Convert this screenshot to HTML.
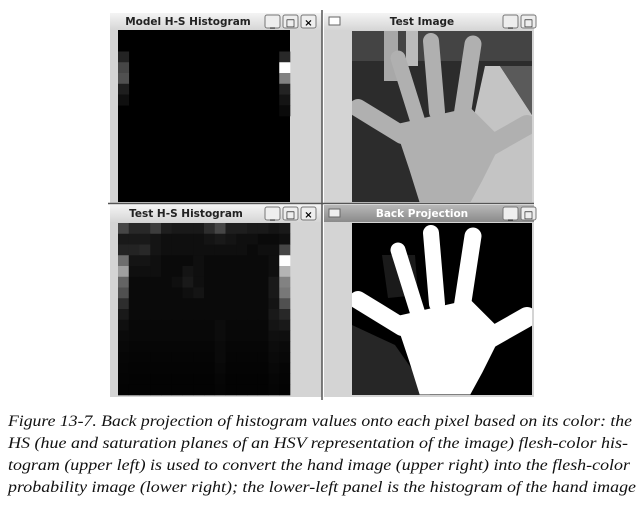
<!DOCTYPE html>
<html><head><meta charset="utf-8"><style>
html,body{margin:0;padding:0;background:#fff;width:641px;height:506px;overflow:hidden}
svg{display:block}
text{font-family:"DejaVu Sans","Liberation Sans",sans-serif}
text.cap{font-family:"Liberation Serif",serif;font-style:italic;font-size:16px;fill:#111}
.tt{font-size:10.5px;font-weight:bold;fill:#222}
</style></head><body>
<svg id="fig" width="641" height="506" viewBox="0 0 641 506">
<defs>
<linearGradient id="tb" x1="0" y1="0" x2="0" y2="1"><stop offset="0" stop-color="#f4f4f4"/><stop offset="1" stop-color="#d6d6d6"/></linearGradient>
<linearGradient id="tbd" x1="0" y1="0" x2="0" y2="1"><stop offset="0" stop-color="#b8b8b8"/><stop offset="1" stop-color="#8a8a8a"/></linearGradient>
<clipPath id="c1"><rect x="352" y="31" width="180" height="171"/></clipPath>
<clipPath id="c2"><rect x="352" y="223" width="180" height="172"/></clipPath>
</defs>
<g>
<rect x="110" y="13" width="212" height="191" fill="#d4d4d4"/>
<rect x="110" y="13" width="212" height="17" fill="url(#tb)"/>
<text class="tt" x="188" y="25" text-anchor="middle">Model H-S Histogram</text>
</g>
<g>
<rect x="110" y="205" width="212" height="192" fill="#d4d4d4"/>
<rect x="110" y="205" width="212" height="17" fill="url(#tb)"/>
<text class="tt" x="186" y="217" text-anchor="middle">Test H-S Histogram</text>
</g>
<g>
<rect x="324" y="13" width="210" height="191" fill="#d4d4d4"/>
<rect x="324" y="13" width="210" height="17" fill="url(#tb)"/>
<rect x="329" y="17" width="11" height="8" fill="#fff" stroke="#666"/>
<text class="tt" x="422" y="25" text-anchor="middle">Test Image</text>
</g>
<g>
<rect x="324" y="205" width="210" height="192" fill="#d4d4d4"/>
<rect x="324" y="205" width="210" height="17" fill="url(#tbd)"/>
<rect x="329" y="209" width="11" height="8" fill="#eee" stroke="#666"/>
<text class="tt" x="422" y="217" text-anchor="middle" style="fill:#fff">Back Projection</text>
</g>
<line x1="322" y1="10" x2="322" y2="400" stroke="#555" stroke-width="1.5"/>
<line x1="108" y1="203.5" x2="534" y2="203.5" stroke="#555" stroke-width="1.5"/>
<g id="btns"></g>
<rect x="118" y="30" width="172" height="172" fill="#000"/>
<rect x="118" y="223" width="172" height="172" fill="#000"/>
<g id="hm1"></g><g id="hm2"></g>
<g clip-path="url(#c1)">
<rect x="352" y="31" width="180" height="171" fill="#2c2c2c"/>
<rect x="352" y="31" width="180" height="30" fill="#444"/>
<rect x="384" y="31" width="14" height="50" fill="#a8a8a8"/>
<rect x="406" y="31" width="12" height="35" fill="#bbb"/>
<polygon points="485,66 500,66 532,115 532,202 455,202" fill="#c4c4c4"/>
<polygon points="500,66 532,66 532,115" fill="#5a5a5a"/>
<g fill="#b0b0b0" stroke="#b0b0b0" stroke-linecap="round">
<line x1="358" y1="108" x2="402" y2="135" stroke-width="18"/>
<line x1="398" y1="58" x2="418" y2="122" stroke-width="15"/>
<line x1="431" y1="41" x2="437" y2="112" stroke-width="16"/>
<line x1="473" y1="44" x2="462" y2="116" stroke-width="17"/>
<line x1="527" y1="125" x2="490" y2="146" stroke-width="20"/>
<polygon points="395,125 470,108 502,140 482,180 470,202 420,202 410,170" stroke-width="1"/>
</g>
</g>
<g clip-path="url(#c2)">
<rect x="352" y="223" width="180" height="172" fill="#000"/>
<polygon points="352,325 395,345 430,395 352,395" fill="#262626"/>
<polygon points="382,255 415,255 418,295 388,298" fill="#1a1a1a"/>
<g transform="translate(0,192)" fill="#fff" stroke="#fff" stroke-linecap="round">
<line x1="358" y1="108" x2="402" y2="135" stroke-width="18"/>
<line x1="398" y1="58" x2="418" y2="122" stroke-width="15"/>
<line x1="431" y1="41" x2="437" y2="112" stroke-width="16"/>
<line x1="473" y1="44" x2="462" y2="116" stroke-width="17"/>
<line x1="527" y1="125" x2="490" y2="146" stroke-width="20"/>
<polygon points="395,125 470,108 502,140 482,180 470,202 420,202 410,170" stroke-width="1"/>
</g>
</g>
<g>
<text class="cap" x="8" y="426" textLength="624" lengthAdjust="spacingAndGlyphs">Figure 13-7. Back projection of histogram values onto each pixel based on its color: the</text>
<text class="cap" x="8" y="448" textLength="620" lengthAdjust="spacingAndGlyphs">HS (hue and saturation planes of an HSV representation of the image) flesh-color his-</text>
<text class="cap" x="8" y="470" textLength="622" lengthAdjust="spacingAndGlyphs">togram (upper left) is used to convert the hand image (upper right) into the flesh-color</text>
<text class="cap" x="8" y="492" textLength="628" lengthAdjust="spacingAndGlyphs">probability image (lower right); the lower-left panel is the histogram of the hand image</text>
</g>
</svg>
<script>
const NS="http://www.w3.org/2000/svg";
const modelRows=[2,3,4,5,6,2,3,4,5,6,7];
const modelCols=[0,0,0,0,0,15,15,15,15,15,15];
const modelVals=[35,70,80,30,15,40,255,130,35,20,10];
const testGrid=[
[70,40,40,60,30,25,25,25,45,70,30,30,25,25,20,25],
[25,25,25,20,15,15,15,15,20,25,20,15,15,10,10,15],
[35,35,40,20,15,15,15,15,15,15,15,15,10,15,15,70],
[110,20,20,15,10,10,10,15,10,10,10,10,10,10,15,255],
[160,15,15,15,10,10,20,15,10,10,10,10,10,10,15,180],
[100,10,10,10,10,15,25,15,10,10,10,10,10,10,25,130],
[80,10,10,10,10,10,15,20,10,10,10,10,10,10,25,120],
[45,10,10,10,10,10,10,10,10,10,10,10,10,10,20,80],
[25,10,10,10,10,10,10,10,10,10,10,10,10,10,25,40],
[15,8,8,8,8,8,8,8,8,12,8,8,8,8,20,25],
[10,8,8,8,8,8,8,8,8,12,8,8,8,8,15,15],
[8,6,6,6,6,6,6,6,6,10,6,6,6,6,12,10],
[6,5,5,5,5,5,5,5,5,10,5,5,5,5,10,8],
[5,4,4,4,4,4,4,4,4,8,4,4,4,4,8,5],
[4,3,3,3,3,3,3,3,3,6,3,3,3,3,6,4],
[3,3,3,3,3,3,3,3,3,5,3,3,3,3,5,3]];
const N=16;
function xs(c,x0){return x0+c*172/N;}
function ys(r,y0){return y0+r*172/N;}
function gray(v){return `rgb(${v},${v},${v})`;}
const g1=document.getElementById('hm1');
modelVals.forEach((v,i)=>{
  const r=document.createElementNS(NS,'rect');
  r.setAttribute('x',xs(modelCols[i],118));r.setAttribute('y',ys(modelRows[i],30));
  r.setAttribute('width',172/N+0.3);r.setAttribute('height',172/N+0.3);r.setAttribute('fill',gray(v));
  
  
  g1.appendChild(r);
});
const g2=document.getElementById('hm2');
testGrid.forEach((row,ri)=>row.forEach((v,ci)=>{
  const r=document.createElementNS(NS,'rect');
  r.setAttribute('x',xs(ci,118));r.setAttribute('y',ys(ri,223));
  r.setAttribute('width',172/N+0.3);r.setAttribute('height',172/N+0.3);r.setAttribute('fill',gray(v));
  
  
  g2.appendChild(r);
}));
const bg=document.getElementById('btns');
const btnX=[265,283,301,503,521];
const btnY=[15,207];
const glyph=['_','□','×','_','□'];
btnY.forEach(y=>btnX.forEach((x,i)=>{
  const r=document.createElementNS(NS,'rect');
  r.setAttribute('x',x);r.setAttribute('y',y);r.setAttribute('width',15);r.setAttribute('height',13);
  r.setAttribute('rx',2);r.setAttribute('fill','#eee');r.setAttribute('stroke','#777');
  
  
  bg.appendChild(r);
  const t=document.createElementNS(NS,'text');
  t.setAttribute('x',x+7.5);t.setAttribute('y',y+11);t.setAttribute('text-anchor','middle');
  t.setAttribute('font-size','10');t.setAttribute('font-weight','bold');t.textContent=glyph[i];
  
  
  bg.appendChild(t);
}));
</script>
</body></html>
